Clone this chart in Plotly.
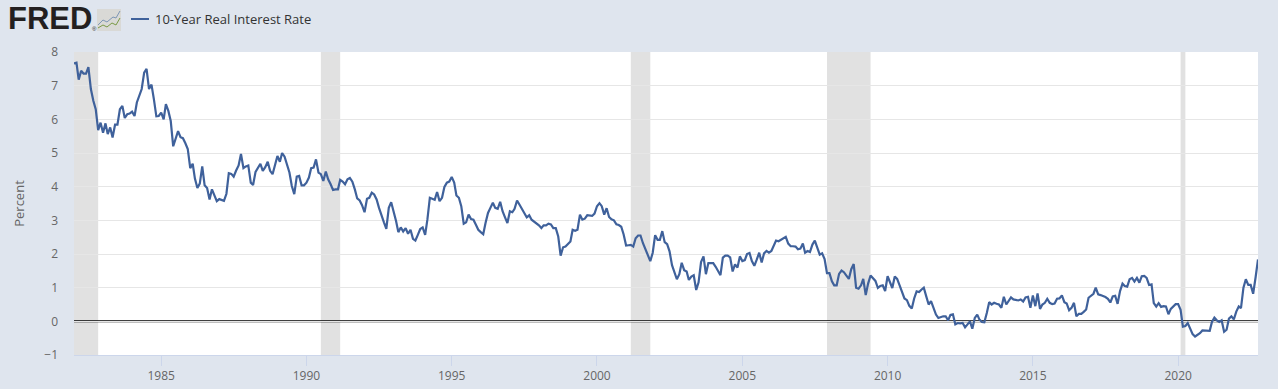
import pandas as pd
import plotly.graph_objects as go

SERIES_NAME = "10-Year Real Interest Rate"
START_MONTH = "1982-01-01"
X_RANGE = ["1982-01-01", "2022-10-01"]
TICK_YEARS = [1985, 1990, 1995, 2000, 2005, 2010, 2015, 2020]
Y_TICKS = [-1, 0, 1, 2, 3, 4, 5, 6, 7, 8]

RECESSION_START = ["1981-12-01", "1990-07-01", "2001-03-01", "2007-12-01", "2020-02-01"]
RECESSION_END = ["1982-11-01", "1991-03-01", "2001-11-01", "2009-06-01", "2020-04-01"]

values = [
    7.66, 7.68, 7.18, 7.44, 7.36, 7.36, 7.55, 6.9, 6.55, 6.3, 5.68, 5.9,
    5.6, 5.88, 5.56, 5.76, 5.46, 5.84, 5.84, 6.3, 6.4, 6.04, 6.15, 6.17,
    6.23, 6.1, 6.5, 6.7, 6.9, 7.39, 7.5, 6.9, 7.03, 6.6, 6.09, 6.1,
    6.2, 6.0, 6.45, 6.25, 5.95, 5.2, 5.39, 5.65, 5.47, 5.44, 5.29, 5.12,
    4.55, 4.68, 4.24, 3.96, 4.09, 4.6, 4.04, 3.96, 3.62, 3.92, 3.74, 3.57,
    3.63, 3.61, 3.58, 3.79, 4.4, 4.38, 4.3, 4.48, 4.63, 4.97, 4.55, 4.6,
    4.63, 4.12, 4.05, 4.44, 4.54, 4.68, 4.47, 4.58, 4.74, 4.47, 4.37, 4.66,
    4.91, 4.74, 5.0, 4.89, 4.66, 4.42, 4.02, 3.78, 4.3, 4.32, 4.04, 4.04,
    4.12, 4.27, 4.55, 4.57, 4.81, 4.42, 4.37, 4.17, 4.45, 4.22, 4.07, 3.9,
    3.92, 3.92, 4.2, 4.15, 4.07, 4.22, 4.26, 4.15, 3.92, 3.65, 3.59, 3.45,
    3.24, 3.64, 3.67, 3.82, 3.77, 3.62, 3.37, 3.12, 2.94, 2.75, 3.37, 3.54,
    3.27, 2.97, 2.65, 2.79, 2.67, 2.77, 2.6, 2.72, 2.45, 2.4, 2.57, 2.74,
    2.79, 2.57, 3.02, 3.67, 3.64, 3.61, 3.84, 3.57, 3.67, 3.99, 4.12, 4.15,
    4.29, 4.12, 3.74, 3.67, 3.42, 2.9, 2.94, 3.17, 3.04, 3.02, 2.87, 2.72,
    2.65, 2.59, 2.92, 3.22, 3.37, 3.52, 3.37, 3.34, 3.55, 3.27, 3.09, 2.92,
    3.27, 3.24, 3.34, 3.59, 3.47, 3.32, 3.22, 3.09, 3.15, 3.02, 2.97, 2.92,
    2.85, 2.77, 2.85, 2.85, 2.9, 2.88, 2.77, 2.77, 2.52, 1.95, 2.2, 2.22,
    2.3, 2.37, 2.72, 2.69, 2.72, 3.17, 3.02, 3.05, 3.15, 3.13, 3.13, 3.2,
    3.42, 3.51, 3.42, 3.17, 3.36, 3.1, 3.03, 3.0, 2.88, 2.86, 2.81, 2.58,
    2.25, 2.26, 2.27, 2.22, 2.47, 2.55, 2.55, 2.32, 2.13, 1.93, 1.79, 2.03,
    2.56, 2.42, 2.42, 2.68, 2.35, 2.29, 2.08, 1.67, 1.42, 1.25, 1.4, 1.74,
    1.52, 1.48, 1.23, 1.33, 1.37, 0.93, 1.16, 1.76, 1.93, 1.4, 1.73, 1.73,
    1.73, 1.62, 1.48, 1.37, 1.89, 1.95, 1.95, 1.9, 1.48, 1.69, 1.6, 1.93,
    1.79, 1.82, 2.0, 2.03, 1.79, 1.65, 1.83, 2.04, 1.75, 2.02, 2.09, 2.04,
    2.09, 2.23, 2.4, 2.38, 2.43, 2.48, 2.51, 2.31, 2.23, 2.23, 2.22, 2.14,
    2.16, 2.31, 2.04, 2.09, 2.06, 2.28, 2.4, 2.19, 1.98, 2.02, 1.85, 1.43,
    1.43, 1.19, 1.07, 1.07, 1.41, 1.51, 1.46, 1.36, 1.26, 1.55, 1.7, 1.0,
    0.97, 1.07, 1.26, 0.78, 1.12, 1.36, 1.29, 1.2, 0.99, 1.05, 1.07, 0.9,
    1.34, 1.12, 0.99, 1.33, 1.26, 1.07, 0.88, 0.68, 0.63, 0.46, 0.38, 0.68,
    0.89, 0.87, 0.94, 1.0, 0.75, 0.5, 0.6, 0.4, 0.2, 0.1, 0.13, 0.15,
    0.15, 0.03, 0.19, 0.21, -0.09, -0.05, -0.06, -0.05, -0.18, -0.1, 0.0, -0.22,
    0.1, 0.2, 0.05, -0.02, -0.03, 0.25, 0.57, 0.5, 0.55, 0.52, 0.5, 0.4,
    0.73, 0.5, 0.6, 0.71, 0.65, 0.63, 0.62, 0.65, 0.59, 0.71, 0.73, 0.4,
    0.77, 0.45, 0.83, 0.37, 0.5, 0.55, 0.67, 0.55, 0.51, 0.53, 0.67, 0.68,
    0.77, 0.57, 0.53, 0.33, 0.4, 0.55, 0.15, 0.22, 0.22, 0.28, 0.35, 0.7,
    0.75, 0.82, 1.0, 0.8, 0.78, 0.76, 0.72, 0.67, 0.56, 0.74, 0.76, 0.52,
    0.9, 1.12, 1.05, 1.03, 1.25, 1.29, 1.18, 1.29, 1.15, 1.34, 1.35, 1.29,
    1.08, 1.1, 0.54, 0.44, 0.54, 0.43, 0.45, 0.44, 0.21, 0.37, 0.44, 0.51,
    0.51, 0.34, -0.16, -0.14, -0.05, -0.2, -0.38, -0.45, -0.4, -0.35, -0.27, -0.27,
    -0.28, -0.28, -0.02, 0.11, 0.03, -0.02, 0.03, -0.31, -0.25, 0.08, 0.15, 0.06,
    0.29, 0.44, 0.39, 1.0, 1.25, 1.08, 1.08, 0.82, 1.31, 1.84,
]

BG = "#dfe5ee"
LINE = "#3f619b"
W, H = 1278, 389
ML, MR, MT, MB = 74, 20, 52, 34
PW, PH = W - ML - MR, H - MT - MB


def px(v):
    return (v - ML) / PW


def py(v):
    return 1 - (v - MT) / PH


dates = pd.date_range(START_MONTH, periods=len(values), freq="MS")

fig = go.Figure(
    go.Scatter(
        x=dates, y=values, mode="lines", name=SERIES_NAME,
        line=dict(color=LINE, width=2.2), showlegend=False,
        hovertemplate="%{x|%b %Y}: %{y:.2f}<extra></extra>",
    )
)

shapes = [
    dict(type="rect", layer="between", xref="x", yref="paper", x0=a, x1=b, y0=0, y1=1,
         fillcolor="#e1e1e1", line=dict(width=0))
    for a, b in zip(RECESSION_START, RECESSION_END)
]
shapes.append(dict(type="line", layer="between", xref="paper", yref="y", x0=0, x1=1, y0=0, y1=0,
                   line=dict(color="#000000", width=2)))
# legend sample
shapes.append(dict(type="line", xref="paper", yref="paper", x0=px(131), x1=px(149), y0=py(19), y1=py(19),
                   line=dict(color=LINE, width=2)))
# FRED graph icon
shapes.append(dict(type="rect", xref="paper", yref="paper", x0=px(97), x1=px(121), y0=py(31), y1=py(9),
                   fillcolor="#d9d9d6", line=dict(width=0)))
for pts, col in [
    ([(98, 25), (103, 20), (107, 22), (113, 17), (116, 18), (120, 11)], "#7d96b5"),
    ([(98, 28), (103, 25), (107, 27), (112, 23), (116, 25), (120, 18)], "#7a9a45"),
]:
    d = "M " + " L ".join(f"{px(x):.5f},{py(y):.5f}" for x, y in pts)
    shapes.append(dict(type="path", xref="paper", yref="paper", path=d, line=dict(color=col, width=1)))

annotations = [
    dict(text="<b>FRED</b>", xref="paper", yref="paper", x=px(6), y=py(19), xanchor="left", yanchor="middle",
         showarrow=False, font=dict(family="Liberation Sans", size=31, color="#231f20")),
    dict(text="®", xref="paper", yref="paper", x=px(90), y=py(29), xanchor="left", yanchor="middle",
         showarrow=False, font=dict(family="Liberation Sans", size=6, color="#231f20")),
    dict(text=SERIES_NAME, xref="paper", yref="paper", x=px(153), y=py(19), xanchor="left", yanchor="middle",
         showarrow=False, font=dict(family="Open Sans", size=13, color="#333333")),
]

fig.update_layout(
    width=W, height=H, autosize=False,
    margin=dict(l=ML, r=MR, t=MT, b=MB, pad=0),
    paper_bgcolor=BG, plot_bgcolor="#ffffff",
    font=dict(family="Open Sans", size=12, color="#666666"),
    shapes=shapes, annotations=annotations, showlegend=False,
    xaxis=dict(
        type="date", range=X_RANGE, automargin=False,
        tickmode="array",
        tickvals=[f"{y}-01-01" for y in TICK_YEARS],
        ticktext=[str(y) for y in TICK_YEARS],
        showgrid=False, zeroline=False,
        ticks="outside", ticklen=10, tickwidth=1, tickcolor="#ccd6eb",
        showline=True, linecolor="#ccd6eb", linewidth=1,
        tickfont=dict(size=12, color="#666666"),
    ),
    yaxis=dict(
        range=[-1, 8], tickmode="array", tickvals=Y_TICKS, automargin=False,
        showgrid=True, gridcolor="#e6e6e6", gridwidth=1, zeroline=False,
        ticks="", showline=False, ticklabelstandoff=15,
        tickfont=dict(size=12, color="#666666"),
        title=dict(text="Percent", font=dict(size=13, color="#666666"), standoff=16),
    ),
)

fig.write_html(
    "out.html",
    config={"displayModeBar": False},
    post_script="document.body.style.margin='0';document.body.style.overflow='hidden';",
)
